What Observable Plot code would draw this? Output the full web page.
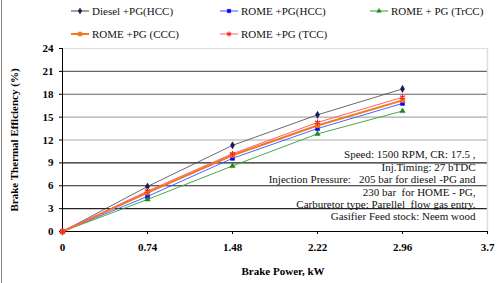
<!DOCTYPE html>
<html>
<head>
<meta charset="utf-8">
<script src="https://cdn.jsdelivr.net/npm/d3@7"></script>
<script src="https://cdn.jsdelivr.net/npm/@observablehq/plot@0.6"></script>
<style>
  html, body { margin: 0; padding: 0; background: #fff; }
  #wrap { position: relative; width: 499px; height: 283px; font-family: 'Liberation Serif', serif; }
  #frame { position: absolute; left: 1px; top: 0; width: 0; height: 283px; border-left: 1px solid #888; }
  .leg { position: absolute; font-family: 'Liberation Serif', serif; font-size: 11px; color: #111; white-space: nowrap; display: flex; align-items: center; }
  .leg svg { margin-right: 3px; }
  #wrap > svg { position: absolute; left: 0; top: 0; }
  svg text { font-family: 'Liberation Serif', serif; }
</style>
</head>
<body>
<div id="wrap"><div id="frame"></div></div>
<script>
const power = [0, 0.74, 1.48, 2.22, 2.96];
const seriesNames = ["Diesel +PG(HCC)", "ROME +PG(HCC)", "ROME + PG (TrCC)", "ROME +PG (CCC)", "ROME +PG (TCC)"];
const diesel = [0, 5.9, 11.3, 15.3, 18.7];
const romeHCC = [0, 4.6, 9.6, 13.5, 16.8];
const romeTrCC = [0, 4.2, 8.6, 12.8, 15.8];
const romeCCC = [0, 5.1, 10.0, 13.9, 17.2];
const romeTCC = [0, 5.3, 10.2, 14.3, 17.6];
const xTicks = [0, 0.74, 1.48, 2.22, 2.96, 3.7];
const yTicks = [0, 3, 6, 9, 12, 15, 18, 21, 24];
const noteLines = [
  "Speed: 1500 RPM, CR: 17.5 ,",
  "Inj.Timing: 27 bTDC",
  "Injection Pressure:   205 bar for diesel -PG and",
  "230 bar  for HOME - PG,",
  "Carburetor type: Parellel  flow gas entry.",
  "Gasifier Feed stock: Neem wood"
];

const styles = [
  {stroke: "#444", mstroke: "#1a1a5a", mfill: "#1a1a5a", symbol: "diamond", w: 0.8, r: 2.2},
  {stroke: "#3355ff", mstroke: "#0000ff", mfill: "#0000ff", symbol: "square", w: 0.9, r: 2.3},
  {stroke: "#33a033", mstroke: "#1a8a1a", mfill: "#1a8a1a", symbol: "triangle", w: 0.9, r: 2.0},
  {stroke: "#f07820", mstroke: "#f07820", mfill: "#f07820", symbol: "square", w: 2, r: 2.6},
  {stroke: "#ff6060", mstroke: "#ff2020", mfill: "none", symbol: "asterisk", w: 1, r: 2.8}
];
const values = [diesel, romeHCC, romeTrCC, romeCCC, romeTCC];
const rows = [];
values.forEach((vals, si) => vals.forEach((v, i) => rows.push({s: si, x: power[i], y: v})));

const marks = [
  Plot.ruleY(yTicks.filter(d => d > 0 && d < 24), {stroke: d => d <= 9 ? "#222" : (d <= 15 ? "#aaa" : "#666"), strokeWidth: 1.2, strokeOpacity: 1}),
  Plot.ruleY([24], {stroke: "#ddd"}),
  Plot.ruleX([3.7], {y1: 0, y2: 24, stroke: "#ddd", strokeWidth: 1.5}),
  Plot.axisX({ticks: xTicks, tickFormat: d => String(d), tickSize: 3, tickPadding: 9, fontWeight: "bold", fontSize: 11, label: null}),
  Plot.text(["Brake Power, kW"], {frameAnchor: "bottom", dx: 8, dy: 43, fontWeight: "bold", fontSize: 11, fill: "#000"}),
  Plot.axisY({ticks: yTicks, tickFormat: d => String(d), tickSize: 3, tickPadding: 6, fontWeight: "bold", fontSize: 11, label: "Brake Thermal Efficiency (%)", labelAnchor: "center", labelArrow: "none", labelOffset: 52}),
  Plot.ruleY([0], {stroke: "#000", strokeWidth: 1}),
  Plot.ruleX([0], {y1: 0, y2: 24, stroke: "#000", strokeWidth: 1})
];
styles.forEach((st, si) => {
  const d = rows.filter(r => r.s === si);
  marks.push(Plot.line(d, {x: "x", y: "y", stroke: st.stroke, strokeWidth: st.w}));
});
styles.forEach((st, si) => {
  const d = rows.filter(r => r.s === si);
  marks.push(Plot.dot(d, {x: "x", y: "y", symbol: () => st.symbol, r: st.r, fill: st.mfill, stroke: st.mstroke, strokeWidth: st.symbol === "asterisk" ? 1.1 : 0.5}));
});
marks.push(Plot.text(noteLines, {
  x: 3.7, y: (d, i) => 10.06 - i * 1.63, text: d => d,
  textAnchor: "end", dx: -12, fontSize: 11, fill: "#111", lineAnchor: "middle"
}));

const chart = Plot.plot({
  width: 499, height: 283,
  marginLeft: 62, marginRight: 12, marginTop: 48, marginBottom: 52,
  x: {domain: [0, 3.7]},
  y: {domain: [0, 24]},
  style: {fontFamily: "'Liberation Serif', serif", color: "#000", background: "transparent", overflow: "visible"},
  marks
});
const wrap = document.getElementById("wrap");
wrap.appendChild(chart);
chart.querySelectorAll("text").forEach(t => t.setAttribute("xml:space", "preserve"));

// HTML legend
const legPos = [[71, 11], [220, 11], [370, 11], [71, 34], [220, 34]];
seriesNames.forEach((name, i) => {
  const st = styles[i];
  const el = document.createElement("div");
  el.className = "leg";
  el.style.left = legPos[i][0] + "px";
  el.style.top = (legPos[i][1] - 8) + "px";
  el.style.height = "16px";
  const svg = d3.create("svg").attr("width", 18).attr("height", 10);
  svg.append("line").attr("x1", 0).attr("x2", 18).attr("y1", 5).attr("y2", 5).attr("stroke", st.stroke).attr("stroke-width", Math.max(1, st.w));
  const sym = {diamond: d3.symbolDiamond, square: d3.symbolSquare, triangle: d3.symbolTriangle, asterisk: d3.symbolAsterisk}[st.symbol];
  svg.append("path").attr("d", d3.symbol(sym, st.r * st.r * 2.2)()).attr("transform", "translate(9,5)")
    .attr("fill", st.mfill).attr("stroke", st.mstroke).attr("stroke-width", st.symbol === "asterisk" ? 1.1 : 0.5);
  el.appendChild(svg.node());
  const t = document.createElement("span");
  t.textContent = name;
  el.appendChild(t);
  wrap.appendChild(el);
});
</script>
</body>
</html>
